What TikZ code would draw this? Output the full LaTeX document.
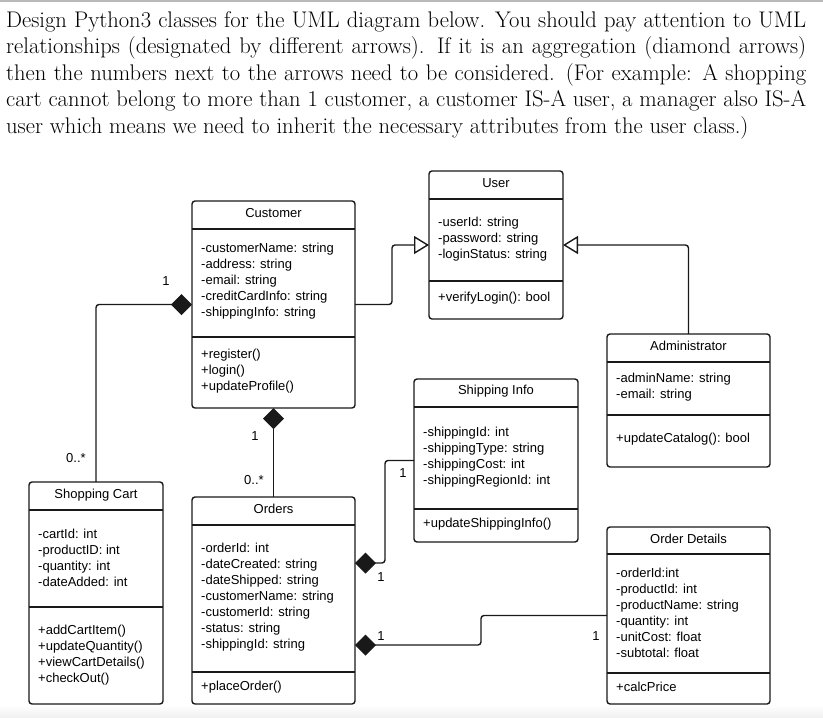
\documentclass[tikz,border=0pt]{standalone}
\usepackage{fontspec}
\newfontfamily\umlfont{Liberation Sans}
\usetikzlibrary{arrows.meta,calc}
\tikzstyle{umlbox} = [rectangle,rounded corners=3pt,draw=black!90,line width=1.4pt,
                      inner sep=0pt,outer sep=0pt]
\tikzstyle{umltitle} = [inner sep=0pt,font=\umlfont\fontsize{13}{16}\selectfont]
\tikzstyle{umltext} = [umltitle,anchor=west,align=left]
\tikzstyle{divider} = [line width=1.4pt,draw=black!90]
\tikzstyle{isa} = [line width=1.4pt,draw=black!90,rounded corners=3pt,
                   -{Triangle[open,length=15pt,width=18pt,fill=white]}]
\tikzstyle{part} = [line width=1.4pt,draw=black!90,rounded corners=3pt,
                    -{Diamond[length=21pt,width=21pt]}]

\begin{document}
\begin{tikzpicture}[x=1pt,y=-1pt]
 \useasboundingbox (0,0) rectangle (823,718);
 \fill[gray!55] (0,0) rectangle (823,1.5);
 \shade[top color=white,bottom color=gray!12] (0,705) rectangle (823,718);
 \node (task) [anchor=north west,text width=800pt,align=justify,inner sep=0pt,
               font=\fontsize{22.6}{26.6}\selectfont] at (6,11)
   {Design Python3 classes for the UML diagram below. You should pay attention to UML\linebreak
    relationships (designated by different arrows). If it is an aggregation (diamond arrows)\linebreak
    then the numbers next to the arrows need to be considered. (For example: A shopping\linebreak
    cart cannot belong to more than 1 customer, a customer IS-A user, a manager also IS-A\linebreak
    user which means we need to inherit the necessary attributes from the user class.)};

 \node (user) [umlbox,minimum width=134pt,minimum height=148pt] at (496,245) {};
 \node (cust) [umlbox,minimum width=163pt,minimum height=207pt] at (273.5,304.5) {};
 \node (admin) [umlbox,minimum width=163pt,minimum height=133pt] at (688.5,400.5) {};
 \node (cart) [umlbox,minimum width=134pt,minimum height=222pt] at (96,593) {};
 \node (ord) [umlbox,minimum width=163pt,minimum height=207pt] at (273.5,600.5) {};
 \node (ship) [umlbox,minimum width=164pt,minimum height=163pt] at (496,460.5) {};
 \node (odet) [umlbox,minimum width=163pt,minimum height=177pt] at (688.5,615.5) {};

 \draw[divider] (user.west |- 0,199) -- (user.east |- 0,199);
 \draw[divider] (user.west |- 0,281) -- (user.east |- 0,281);
 \draw[divider] (cust.west |- 0,229) -- (cust.east |- 0,229);
 \draw[divider] (cust.west |- 0,337) -- (cust.east |- 0,337);
 \draw[divider] (admin.west |- 0,362) -- (admin.east |- 0,362);
 \draw[divider] (admin.west |- 0,415) -- (admin.east |- 0,415);
 \draw[divider] (cart.west |- 0,510) -- (cart.east |- 0,510);
 \draw[divider] (cart.west |- 0,607) -- (cart.east |- 0,607);
 \draw[divider] (ord.west |- 0,525) -- (ord.east |- 0,525);
 \draw[divider] (ord.west |- 0,672) -- (ord.east |- 0,672);
 \draw[divider] (ship.west |- 0,407) -- (ship.east |- 0,407);
 \draw[divider] (ship.west |- 0,509) -- (ship.east |- 0,509);
 \draw[divider] (odet.west |- 0,554) -- (odet.east |- 0,554);
 \draw[divider] (odet.west |- 0,673) -- (odet.east |- 0,673);

 \node (user-t) [umltitle] at (496,183) {User};
 \node (user-a) [umltext] at (438,239) {-userId: string\\-password: string\\-loginStatus: string};
 \node (user-m) [umltext] at (438,298) {+verifyLogin(): bool};
 \node (cust-t) [umltitle] at (273.5,213) {Customer};
 \node (cust-a) [umltext] at (201,281.5)
            {-customerName: string\\-address: string\\-email: string\\
             -creditCardInfo: string\\-shippingInfo: string};
 \node (cust-m) [umltext] at (201,371.5) {+register()\\+login()\\+updateProfile()};
 \node (admin-t) [umltitle] at (688.5,346) {Administrator};
 \node (admin-a) [umltext] at (616,387) {-adminName: string\\-email: string};
 \node (admin-m) [umltext] at (616,439) {+updateCatalog(): bool};
 \node (cart-t) [umltitle] at (96,495) {Shopping Cart};
 \node (cart-a) [umltext] at (38,558) {-cartId: int\\-productID: int\\-quantity: int\\-dateAdded: int};
 \node (cart-m) [umltext] at (38,655)
            {+addCartItem()\\+updateQuantity()\\+viewCartDetails()\\+checkOut()};
 \node (ord-t) [umltitle] at (273.5,509) {Orders};
 \node (ord-a) [umltext] at (201,597)
            {-orderId: int\\-dateCreated: string\\-dateShipped: string\\-customerName: string\\
             -customerId: string\\-status: string\\-shippingId: string};
 \node (ord-m) [umltext] at (201,687) {+placeOrder()};
 \node (ship-t) [umltitle] at (496,391) {Shipping Info};
 \node (ship-a) [umltext] at (423,457)
            {-shippingId: int\\-shippingType: string\\-shippingCost: int\\-shippingRegionId: int};
 \node (ship-m) [umltext] at (423,524) {+updateShippingInfo()};
 \node (odet-t) [umltitle] at (688.5,539) {Order Details};
 \node (odet-a) [umltext] at (616,613)
            {-orderId:int\\-productId: int\\-productName: string\\-quantity: int\\
             -unitCost: float\\-subtotal: float};
 \node (odet-m) [umltext] at (616,687) {+calcPrice};

 \draw[isa] (cust.east) -- ++(37,0) |- (user.west);
 \draw[isa] (admin.north) |- (user.east);
 \draw[part] (cart.north) |- (cust.west);
 \draw[part] (ord.north) -- (cust.south);
 \draw[part] (ship.west) -| ($(ord.east)+(30,-37.5)$) -- ($(ord.east)+(0,-37.5)$);
 \draw[part] (odet.west) -| ($(ord.east)+(126,44.5)$) -- ($(ord.east)+(0,44.5)$);

 \node (m-cc) [umltitle] at (166,281) {1};
 \node (m-cart) [umltitle] at (76,458) {0..*};
 \node (m-co) [umltitle] at (255,436) {1};
 \node (m-ord) [umltitle] at (254,480) {0..*};
 \node (m-ship) [umltitle] at (403,473) {1};
 \node (m-os) [umltitle] at (381,577) {1};
 \node (m-od) [umltitle] at (381,636) {1};
 \node (m-odet) [umltitle] at (596,636) {1};
\end{tikzpicture}
\end{document}
